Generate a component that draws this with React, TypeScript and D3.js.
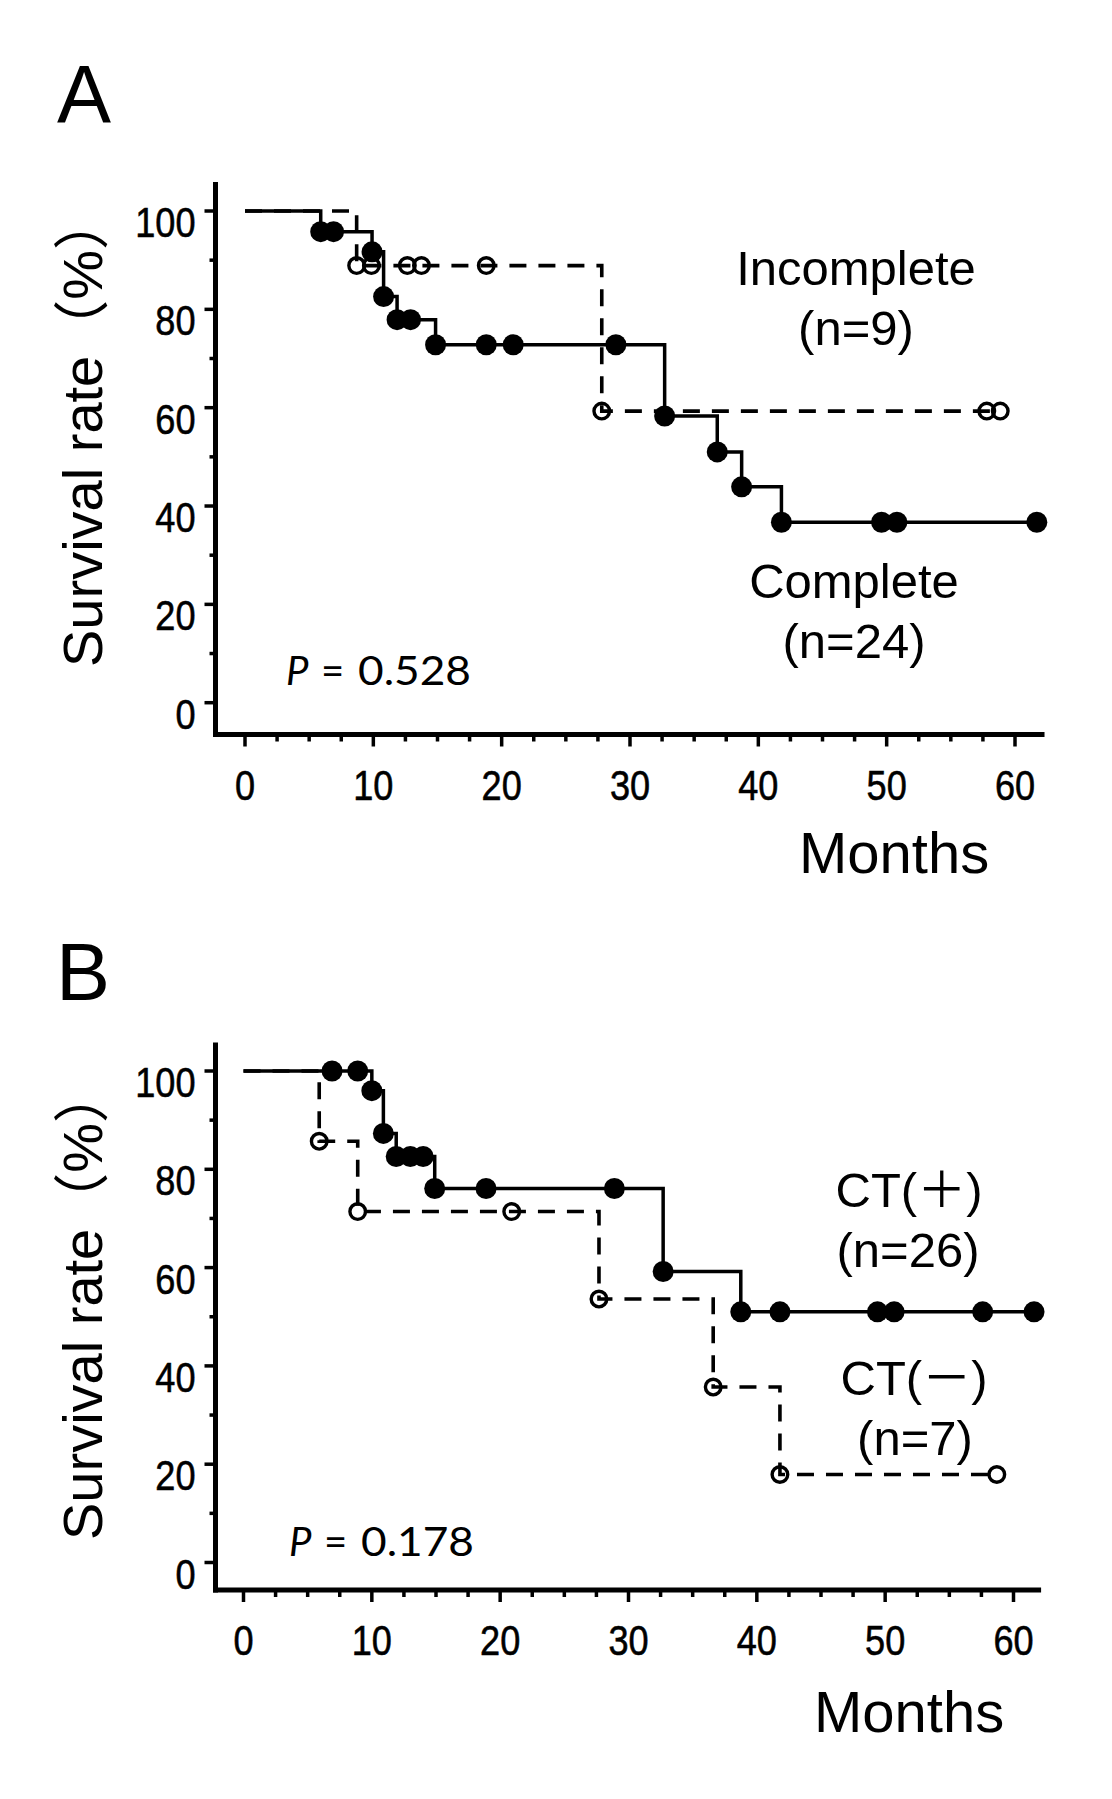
import React from "react";
import * as d3 from "d3";

// ---------- tick labels ----------
const xTickLabels = [0, 10, 20, 30, 40, 50, 60];
const yTickLabels = [0, 20, 40, 60, 80, 100];
const xMinorStep = 2.5;
const yMinorStep = 10;

// ---------- Panel A: Complete (solid, filled markers) ----------
const aCompleteStepMonths = [0, 5.9, 9.9, 10.8, 11.85, 14.85, 32.7, 36.8, 38.7, 41.8];
const aCompleteStepSurvival = [100, 95.8, 91.7, 82.6, 77.9, 72.8, 58.3, 51.0, 43.9, 36.7];
const aCompleteEndMonth = 61.7;
const aCompleteMarkMonths = [5.9, 6.9, 9.9, 10.8, 11.85, 12.9, 14.85, 18.8, 20.9, 28.9, 32.7, 36.8, 38.7, 41.8, 49.6, 50.8, 61.7];

// ---------- Panel A: Incomplete (dashed, open markers) ----------
const aIncompleteStepMonths = [0, 8.7, 27.8];
const aIncompleteStepSurvival = [100, 88.9, 59.3];
const aIncompleteEndMonth = 58.85;
const aIncompleteMarkMonths = [8.7, 9.85, 12.65, 13.75, 18.8, 27.8, 57.8, 58.85];

// ---------- Panel B: CT(+) (solid, filled markers) ----------
const bCtPosStepMonths = [0, 10.0, 10.9, 11.9, 14.9, 32.7, 38.75];
const bCtPosStepSurvival = [100, 96.0, 87.3, 82.6, 76.1, 59.2, 51.0];
const bCtPosEndMonth = 61.6;
const bCtPosMarkMonths = [6.9, 8.9, 10.0, 10.9, 11.9, 13.0, 14.0, 14.9, 18.9, 28.9, 32.7, 38.75, 41.8, 49.4, 50.7, 57.6, 61.6];

// ---------- Panel B: CT(-) (dashed, open markers) ----------
const bCtNegStepMonths = [0, 5.9, 8.9, 27.7, 36.6, 41.8];
const bCtNegStepSurvival = [100, 85.7, 71.4, 53.6, 35.7, 17.9];
const bCtNegEndMonth = 58.7;
const bCtNegMarkMonths = [5.9, 8.9, 20.9, 27.7, 36.6, 41.8, 58.7];

const FONT = "'Liberation Sans', Arial, 'Noto Sans CJK JP', sans-serif";
const PFONT = "Lato, 'Open Sans', sans-serif";

type Series = {
  stepMonths: number[];
  stepSurv: number[];
  endMonth: number;
  markMonths: number[];
  dashed: boolean;
};

type Layout = {
  x0: number; x60: number; y0: number; y100: number;
  axisX: number; axisY: number; axisXStart: number; axisXEndMonth: number; axisYTopValue: number;
  letterX: number; letterY: number; yLabelX: number; yLabelY: number;
  pX: number; pY: number; monthsX: number; monthsY: number;
};

type Label = { text: string; x: number; y: number };

function survivalAt(months: number[], surv: number[], t: number) {
  let v = surv[0];
  for (let i = 0; i < months.length; i++) if (months[i] <= t + 1e-9) v = surv[i];
  return v;
}

function Panel({ layout, series, letter, pValue, labels }: { layout: Layout; series: Series[]; letter: string; pValue: string; labels: Label[] }) {
  const L = layout;
  const x = d3.scaleLinear().domain([0, 60]).range([L.x0, L.x60]);
  const y = d3.scaleLinear().domain([0, 100]).range([L.y0, L.y100]);
  const line = d3.line<[number, number]>().x((d) => x(d[0])).y((d) => y(d[1])).curve(d3.curveStepAfter);

  const xMinor = d3.range(0, 60 + 1e-9, xMinorStep).filter((v) => !xTickLabels.includes(v));
  const yMinor = d3.range(yMinorStep, 100, yMinorStep).filter((v) => !yTickLabels.includes(v));

  const ordered = [...series].sort((a, b) => (a.dashed === b.dashed ? 0 : a.dashed ? -1 : 1));

  return (
    <g>
      <text x={L.letterX} y={L.letterY} fontFamily={FONT} fontSize={81}>{letter}</text>
      {/* y label */}
      <text transform={`translate(${L.yLabelX},${L.yLabelY}) rotate(-90)`} fontFamily={FONT} fontSize={56}>
        Survival rate（%）
      </text>
      {/* axes */}
      <line x1={L.axisX} x2={L.axisX} y1={y(L.axisYTopValue)} y2={L.axisY + 2.5} stroke="#000" strokeWidth={5} />
      <line x1={L.axisXStart} x2={x(L.axisXEndMonth)} y1={L.axisY} y2={L.axisY} stroke="#000" strokeWidth={5} />
      {yTickLabels.map((v) => (
        <g key={"yt" + v}>
          <line x1={L.axisX - 11} x2={L.axisX} y1={y(v)} y2={y(v)} stroke="#000" strokeWidth={3.5} />
          <text transform={`translate(${L.axisX - 20},${y(v) + 26}) scale(0.86,1)`} textAnchor="end" fontFamily={FONT} fontSize={42}
            stroke="#000" strokeWidth={0.6}>{v}</text>
        </g>
      ))}
      {yMinor.map((v) => (
        <line key={"ym" + v} x1={L.axisX - 6} x2={L.axisX} y1={y(v)} y2={y(v)} stroke="#000" strokeWidth={3.5} />
      ))}
      {xTickLabels.map((v) => (
        <g key={"xt" + v}>
          <line x1={x(v)} x2={x(v)} y1={L.axisY} y2={L.axisY + 12} stroke="#000" strokeWidth={3.5} />
          <text transform={`translate(${x(v)},${L.axisY + 65}) scale(0.86,1)`} textAnchor="middle" fontFamily={FONT} fontSize={42}
            stroke="#000" strokeWidth={0.6}>{v}</text>
        </g>
      ))}
      {xMinor.map((v) => (
        <line key={"xm" + v} x1={x(v)} x2={x(v)} y1={L.axisY} y2={L.axisY + 7} stroke="#000" strokeWidth={3.5} />
      ))}
      {/* curves */}
      {ordered.map((s, i) => {
        const pts: [number, number][] = s.stepMonths.map((m, j) => [m, s.stepSurv[j]] as [number, number]);
        pts.push([s.endMonth, s.stepSurv[s.stepSurv.length - 1]]);
        return (
          <path key={"c" + i} d={line(pts) || ""} fill="none" stroke="#000" strokeWidth={s.dashed ? 3.6 : 3.5}
            strokeDasharray={s.dashed ? "17 12" : undefined} />
        );
      })}
      {ordered.map((s, i) =>
        s.markMonths.map((m, j) => {
          const v = survivalAt(s.stepMonths, s.stepSurv, m);
          return s.dashed ? (
            <circle key={`m${i}-${j}`} cx={x(m)} cy={y(v)} r={7.8} fill="none" stroke="#000" strokeWidth={3.4} />
          ) : (
            <circle key={`m${i}-${j}`} cx={x(m)} cy={y(v)} r={10.5} fill="#000" />
          );
        })
      )}
      {/* group labels */}
      {labels.map((lb, i) => (
        <text key={"lb" + i} x={lb.x} y={lb.y} textAnchor="middle" fontFamily={FONT} fontSize={49}>{lb.text}</text>
      ))}
      {/* P value */}
      <text y={L.pY} fontFamily={PFONT} fontSize={40}>
        <tspan x={L.pX} fontStyle="italic">P</tspan>
        <tspan x={L.pX + 35}>=</tspan>
      </text>
      <text x={L.pX + 72} y={L.pY} fontFamily={PFONT} fontSize={40} textLength={113} lengthAdjust="spacingAndGlyphs">{pValue}</text>
      {/* Months */}
      <text x={L.monthsX} y={L.monthsY} fontFamily={FONT} fontSize={58}>Months</text>
    </g>
  );
}

const layoutA: Layout = {
  x0: 245, x60: 1015, y0: 702.7, y100: 211,
  axisX: 215.5, axisY: 734.5, axisXStart: 213, axisXEndMonth: 62.3, axisYTopValue: 105.9,
  letterX: 57, letterY: 122, yLabelX: 101.5, yLabelY: 667,
  pX: 286, pY: 685, monthsX: 799, monthsY: 873,
};

const layoutB: Layout = {
  x0: 243.5, x60: 1013.5, y0: 1562.5, y100: 1071,
  axisX: 215.5, axisY: 1590, axisXStart: 213, axisXEndMonth: 62.15, axisYTopValue: 105.8,
  letterX: 56, letterY: 1000, yLabelX: 101.5, yLabelY: 1540,
  pX: 289, pY: 1556, monthsX: 814, monthsY: 1732,
};

export default function App() {
  const seriesA: Series[] = [
    { stepMonths: aCompleteStepMonths, stepSurv: aCompleteStepSurvival, endMonth: aCompleteEndMonth, markMonths: aCompleteMarkMonths, dashed: false },
    { stepMonths: aIncompleteStepMonths, stepSurv: aIncompleteStepSurvival, endMonth: aIncompleteEndMonth, markMonths: aIncompleteMarkMonths, dashed: true },
  ];
  const seriesB: Series[] = [
    { stepMonths: bCtPosStepMonths, stepSurv: bCtPosStepSurvival, endMonth: bCtPosEndMonth, markMonths: bCtPosMarkMonths, dashed: false },
    { stepMonths: bCtNegStepMonths, stepSurv: bCtNegStepSurvival, endMonth: bCtNegEndMonth, markMonths: bCtNegMarkMonths, dashed: true },
  ];
  const labelsA: Label[] = [
    { text: "Incomplete", x: 856, y: 285 },
    { text: "(n=9)", x: 856, y: 345 },
    { text: "Complete", x: 854, y: 598 },
    { text: "(n=24)", x: 854, y: 658 },
  ];
  const labelsB: Label[] = [
    { text: "CT(＋)", x: 909, y: 1207 },
    { text: "(n=26)", x: 908, y: 1267 },
    { text: "CT(－)", x: 914, y: 1395 },
    { text: "(n=7)", x: 915, y: 1455 },
  ];
  return (
    <>
      <style>{`html,body{margin:0;padding:0;background:#fff;}`}</style>
      <svg width={1112} height={1799} viewBox="0 0 1112 1799" style={{ display: "block", background: "#fff" }}>
        <rect x={0} y={0} width={1112} height={1799} fill="#fff" />
        <Panel layout={layoutA} series={seriesA} letter="A" pValue="0.528" labels={labelsA} />
        <Panel layout={layoutB} series={seriesB} letter="B" pValue="0.178" labels={labelsB} />
      </svg>
    </>
  );
}
